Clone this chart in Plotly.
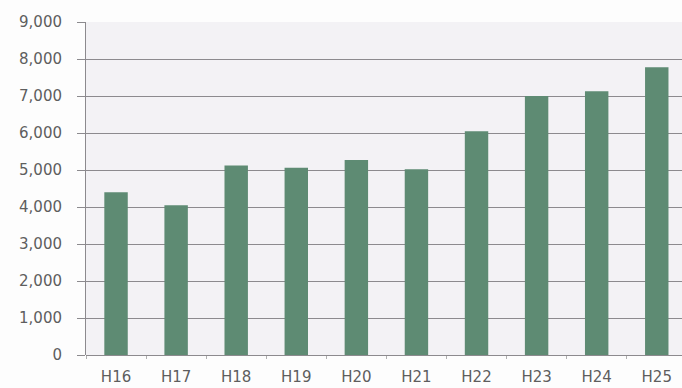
import plotly.graph_objects as go

# Fiscal years (Heisei era) and yearly totals
years = ["H16", "H17", "H18", "H19", "H20", "H21", "H22", "H23", "H24", "H25"]
values = [4400, 4050, 5120, 5060, 5270, 5020, 6050, 7000, 7130, 7780]

y_ticks = [0, 1000, 2000, 3000, 4000, 5000, 6000, 7000, 8000, 9000]
y_tick_labels = ["0", "1,000", "2,000", "3,000", "4,000", "5,000",
                 "6,000", "7,000", "8,000", "9,000"]

BAR_COLOR = "#5e8b73"
GRID_COLOR = "#8c8a8e"
TEXT_COLOR = "#5e5e5e"

fig = go.Figure(
    go.Bar(
        x=years,
        y=values,
        marker=dict(color=BAR_COLOR, line=dict(width=0)),
        width=0.39,
    )
)

fig.update_layout(
    width=682,
    height=388,
    margin=dict(l=86, r=0, t=22, b=33),
    paper_bgcolor="#fdfdfd",
    plot_bgcolor="#f3f2f5",
    showlegend=False,
    font=dict(family="DejaVu Sans", size=15, color=TEXT_COLOR),
    bargap=0.6,
)

fig.update_xaxes(
    type="category",
    range=[-0.5, 9.42],
    showgrid=False,
    showline=False,
    ticks="outside",
    tickson="boundaries",
    ticklen=3,
    tickcolor="#b0b0b0",
    ticklabelstandoff=11,
    tickfont=dict(size=15, color=TEXT_COLOR),
)

fig.update_yaxes(
    range=[0, 9000],
    tickvals=y_ticks,
    ticktext=y_tick_labels,
    showgrid=True,
    gridcolor=GRID_COLOR,
    gridwidth=1,
    zeroline=True,
    zerolinecolor=GRID_COLOR,
    zerolinewidth=1,
    showline=True,
    linecolor=GRID_COLOR,
    linewidth=1,
    ticks="outside",
    ticklen=8,
    tickcolor=GRID_COLOR,
    ticklabelstandoff=12,
    tickfont=dict(size=15, color=TEXT_COLOR),
)

fig.write_html("out.html")
